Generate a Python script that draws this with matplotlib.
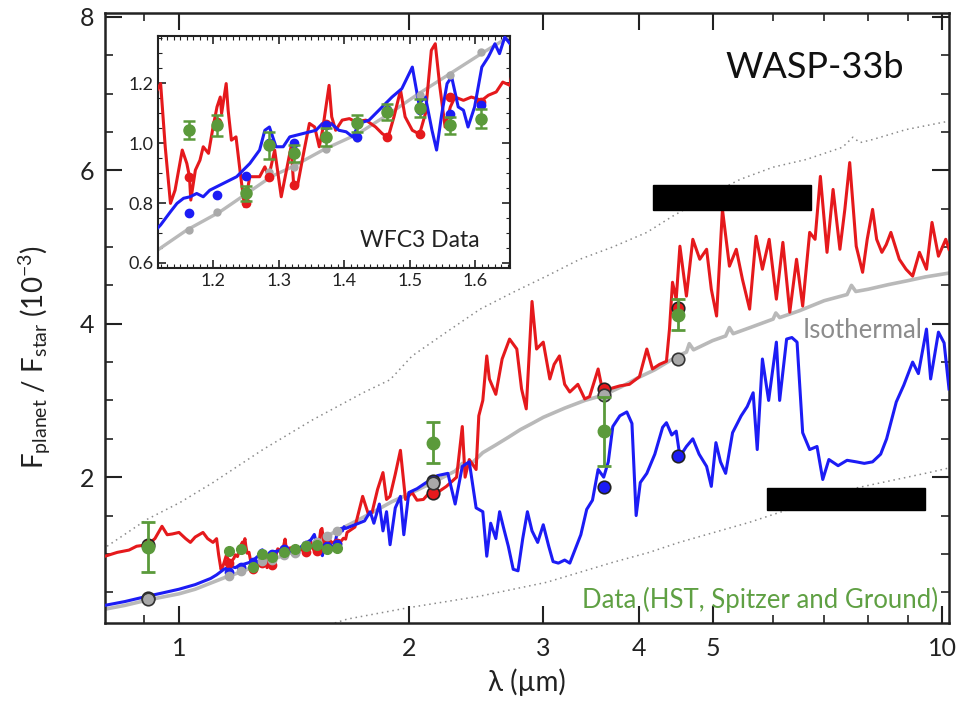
import numpy as np
import matplotlib
matplotlib.use('Agg')
import matplotlib.pyplot as plt
from matplotlib.ticker import FixedLocator, NullFormatter, MultipleLocator, FormatStrFormatter
from matplotlib.patches import Rectangle

plt.rcParams['font.family'] = ['Lato', 'DejaVu Sans']
plt.rcParams['mathtext.default'] = 'regular'

# ---- model spectra (wavelength in micron, Fp/Fs in 1e-3) ----
red_wl = [0.80, 0.83, 0.86, 0.88, 0.91, 0.93, 0.95, 0.965, 0.98, 1.00, 1.02, 1.035, 1.05, 1.075,
          1.09, 1.108, 1.120, 1.127, 1.135, 1.142, 1.153, 1.160, 1.164, 1.166, 1.173, 1.180, 1.185,
          1.193, 1.200, 1.206, 1.211, 1.213, 1.220, 1.223, 1.228, 1.235, 1.241, 1.248, 1.256, 1.271,
          1.279, 1.285, 1.294, 1.304, 1.312, 1.319, 1.323, 1.329, 1.339, 1.347, 1.355, 1.362, 1.367,
          1.377, 1.381, 1.387, 1.397, 1.408, 1.418, 1.433, 1.448, 1.458, 1.467, 1.476, 1.486, 1.493,
          1.504, 1.515, 1.524, 1.533, 1.539, 1.546, 1.554, 1.562, 1.569, 1.582, 1.594, 1.610, 1.620,
          1.632, 1.642, 1.653, 1.66, 1.70, 1.74, 1.77, 1.79, 1.82, 1.85, 1.87, 1.89, 1.92, 1.95, 1.98,
          2.02, 2.05, 2.09, 2.12, 2.18, 2.24, 2.31, 2.35, 2.37, 2.40, 2.45, 2.47, 2.50, 2.53, 2.55,
          2.60, 2.65, 2.71, 2.77, 2.81, 2.85, 2.90, 2.94, 3.00, 3.06, 3.10, 3.15, 3.20, 3.25, 3.33,
          3.40, 3.45, 3.54, 3.59, 3.66, 3.78, 3.89, 4.01, 4.10, 4.17, 4.26, 4.35, 4.39, 4.43, 4.48,
          4.53, 4.62, 4.71, 4.81, 4.91, 4.98, 5.06, 5.15, 5.26, 5.37, 5.47, 5.59, 5.70, 5.81, 5.93,
          6.06, 6.18, 6.31, 6.44, 6.56, 6.70, 6.81, 6.92, 7.06, 7.19, 7.34, 7.45, 7.56, 7.71, 7.86,
          7.97, 8.10, 8.20, 8.33, 8.44, 8.56, 8.78, 8.96, 9.14, 9.33, 9.53, 9.69, 9.88, 10.1, 10.2]
red_f = [0.97, 1.02, 1.05, 1.10, 1.12, 1.20, 1.36, 1.25, 1.26, 1.28, 1.20, 1.15, 1.22, 1.28,
         1.20, 1.15, 1.199, 0.988, 0.799, 0.843, 0.977, 0.932, 0.888, 0.81, 0.91, 0.943, 0.988,
         0.966, 1.054, 1.121, 1.154, 1.099, 1.199, 1.110, 1.01, 1.021, 0.91, 0.788, 0.888, 0.888,
         0.921, 0.888, 0.977, 0.821, 0.91, 0.988, 0.86, 0.86, 0.977, 1.066, 1.054, 0.988, 1.043,
         1.193, 1.088, 1.043, 1.077, 1.082, 1.071, 1.077, 1.054, 1.032, 1.019, 1.088, 1.177, 1.088,
         1.043, 1.03, 1.099, 1.31, 1.332, 1.188, 1.054, 1.121, 1.154, 1.143, 1.154, 1.143, 1.16,
         1.171, 1.204, 1.193, 1.28, 1.35, 1.75, 1.52, 1.54, 1.84, 2.06, 1.71, 1.75, 2.04, 2.35, 1.71,
         1.80, 1.70, 1.71, 1.78, 1.80, 1.88, 2.00, 2.66, 2.00, 2.23, 2.10, 2.80, 3.00, 3.58, 3.28,
         3.08, 3.54, 3.80, 3.67, 3.15, 2.89, 4.29, 3.67, 3.76, 3.28, 3.47, 3.58, 3.21, 3.11, 3.21,
         3.02, 3.05, 3.41, 3.11, 3.15, 3.19, 3.21, 3.31, 3.67, 3.41, 3.47, 3.51, 3.93, 4.54, 4.32,
         5.01, 4.36, 5.10, 4.84, 4.97, 4.45, 4.10, 5.49, 4.75, 4.97, 4.58, 4.19, 5.14, 4.71, 5.10,
         4.32, 5.06, 4.15, 4.84, 4.23, 5.19, 5.10, 5.92, 4.93, 5.75, 4.97, 5.49, 6.10, 5.01, 4.67,
         5.10, 5.49, 5.10, 4.93, 5.03, 5.19, 4.84, 4.71, 4.62, 4.93, 4.71, 5.32, 4.88, 5.10, 4.97]

blue_wl = [0.80, 0.85, 0.91, 0.95, 1.00, 1.05, 1.10, 1.120, 1.135, 1.145, 1.155, 1.165, 1.175, 1.185,
           1.195, 1.216, 1.236, 1.256, 1.271, 1.279, 1.286, 1.296, 1.307, 1.317, 1.337, 1.357, 1.367,
           1.380, 1.392, 1.403, 1.413, 1.423, 1.438, 1.458, 1.473, 1.488, 1.504, 1.514, 1.524, 1.534,
           1.541, 1.549, 1.557, 1.564, 1.574, 1.582, 1.589, 1.599, 1.610, 1.620, 1.630, 1.637, 1.645,
           1.653, 1.70, 1.75, 1.78, 1.80, 1.83, 1.85, 1.87, 1.89, 1.92, 1.95, 1.97, 2.00, 2.05, 2.10,
           2.18, 2.25, 2.30, 2.35, 2.40, 2.45, 2.50, 2.53, 2.56, 2.60, 2.63, 2.66, 2.70, 2.74, 2.78,
           2.82, 2.86, 2.90, 2.95, 3.00, 3.05, 3.09, 3.14, 3.20, 3.25, 3.30, 3.36, 3.42, 3.48, 3.54,
           3.60, 3.65, 3.70, 3.78, 3.86, 3.92, 3.97, 4.02, 4.10, 4.20, 4.30, 4.35, 4.42, 4.48, 4.53,
           4.62, 4.71, 4.80, 4.91, 4.98, 5.05, 5.12, 5.20, 5.31, 5.45, 5.55, 5.65, 5.72, 5.81, 5.92,
           6.06, 6.12, 6.25, 6.35, 6.45, 6.56, 6.70, 6.85, 6.97, 7.10, 7.30, 7.50, 7.71, 7.90, 8.10,
           8.30, 8.45, 8.70, 8.90, 9.14, 9.30, 9.53, 9.65, 9.88, 10.05, 10.2]
blue_f = [0.33, 0.38, 0.45, 0.49, 0.54, 0.60, 0.68, 0.727, 0.771, 0.799, 0.816, 0.821, 0.832, 0.821,
          0.843, 0.866, 0.888, 0.932, 0.977, 1.043, 1.054, 0.988, 0.988, 1.021, 1.032, 1.043, 1.066,
          1.066, 1.043, 1.038, 1.021, 1.066, 1.077, 1.121, 1.154, 1.182, 1.254, 1.132, 1.154, 1.043,
          0.977, 1.099, 1.199, 1.221, 1.121, 1.11, 1.054, 1.121, 1.254, 1.288, 1.332, 1.299, 1.354,
          1.332, 1.38, 1.43, 1.55, 1.40, 1.65, 1.30, 1.55, 1.12, 1.60, 1.75, 1.25, 1.80, 1.85, 1.92,
          2.02, 2.05, 1.65, 2.14, 2.20, 1.60, 1.55, 0.97, 1.40, 1.20, 1.55, 1.35, 1.10, 0.80, 0.78,
          1.20, 1.55, 1.30, 1.15, 1.38, 1.10, 0.90, 0.88, 0.92, 0.88, 1.05, 1.25, 1.58, 1.70, 2.10,
          2.00, 2.20, 2.66, 2.80, 2.85, 2.70, 1.50, 1.93, 2.05, 2.30, 2.65, 2.71, 2.55, 2.60, 2.27,
          2.40, 2.50, 2.30, 2.14, 1.88, 2.45, 2.20, 2.05, 2.58, 2.80, 2.92, 3.10, 2.36, 3.54, 3.00,
          3.76, 3.00, 3.80, 3.82, 3.76, 2.58, 2.36, 2.40, 1.97, 2.23, 2.15, 2.22, 2.20, 2.18, 2.20,
          2.30, 2.50, 2.98, 3.20, 3.50, 3.35, 3.93, 3.28, 3.89, 3.75, 3.15]

iso_wl = [0.80, 0.85, 0.91, 1.00, 1.05, 1.12, 1.16, 1.21, 1.29, 1.32, 1.37, 1.42, 1.47, 1.51, 1.56,
          1.61, 1.70, 1.80, 1.90, 2.00, 2.15, 2.30, 2.35, 2.40, 2.50, 2.60, 2.70, 2.80, 2.90, 3.00,
          3.20, 3.40, 3.60, 3.80, 4.00, 4.20, 4.50, 4.62, 4.66, 4.72, 5.00, 5.20, 5.26, 5.32, 5.60,
          6.00, 6.05, 6.12, 6.50, 7.00, 7.50, 7.60, 7.70, 8.00, 8.50, 9.00, 9.50, 10.2]
iso_f = [0.28, 0.33, 0.40, 0.48, 0.54, 0.65, 0.71, 0.77, 0.89, 0.92, 0.98, 1.03, 1.10, 1.16, 1.23,
         1.30, 1.42, 1.55, 1.68, 1.78, 1.93, 2.08, 2.18, 2.15, 2.32, 2.42, 2.52, 2.62, 2.70, 2.78,
         2.90, 3.00, 3.07, 3.18, 3.30, 3.40, 3.58, 3.63, 3.74, 3.66, 3.78, 3.84, 3.95, 3.87, 3.95,
         4.06, 4.14, 4.08, 4.17, 4.30, 4.38, 4.50, 4.42, 4.45, 4.51, 4.56, 4.61, 4.66]

# blackbody bounds (dotted)
hot_wl = [0.805, 0.908, 1.003, 1.108, 1.288, 1.498, 1.742, 1.89, 2.02, 2.24, 2.48, 2.74, 3.03,
          3.35, 3.70, 4.10, 4.43, 5.00, 5.43, 6.00, 6.63, 7.40, 7.63, 7.80, 8.10, 8.96, 10.2]
hot_f = [1.10, 1.45, 1.67, 1.93, 2.36, 2.75, 3.10, 3.27, 3.58, 3.89, 4.19, 4.41, 4.62,
         4.84, 5.00, 5.19, 5.40, 5.70, 5.88, 6.04, 6.14, 6.30, 6.43, 6.36, 6.40, 6.53, 6.64]
cold_wl = [1.60, 1.66, 2.00, 2.48, 3.03, 3.70, 4.13, 4.52, 5.58, 7.55, 9.6, 10.2]
cold_f = [0.10, 0.15, 0.30, 0.45, 0.63, 0.89, 1.02, 1.15, 1.41, 1.84, 2.06, 2.12]

# ---- observations ----
wfc3_wl = [1.164, 1.206, 1.251, 1.286, 1.323, 1.372, 1.419, 1.466, 1.515, 1.562, 1.609]
wfc3_f = [1.043, 1.06, 0.832, 0.993, 0.966, 1.021, 1.066, 1.104, 1.116, 1.06, 1.082]
wfc3_err = [0.03, 0.035, 0.025, 0.045, 0.028, 0.03, 0.028, 0.028, 0.03, 0.028, 0.033]
wfc3_iso = [0.71, 0.771, 0.83, 0.904, 0.921, 0.982, 1.016, 1.116, 1.16, 1.227, 1.304]
wfc3_red = [0.888, 1.07, 0.80, 0.888, 0.86, 1.063, 1.07, 1.02, 1.032, 1.154, 1.138]
wfc3_blue = [0.766, 0.827, 0.891, 1.0, 1.0, 1.06, 1.019, 1.11, 1.11, 1.099, 1.127]

phot_wl = [0.91, 2.15, 3.6, 4.5]
phot_f = [1.09, 2.45, 2.6, 4.12]
phot_err = [0.32, 0.27, 0.45, 0.2]
phot_iso = [0.41, 1.93, 3.07, 3.54]
phot_red = [1.12, 1.80, 3.15, 4.20]
phot_blue = [0.42, 1.95, 1.87, 2.28]

RED = '#e5191c'
BLUE = '#1c1cf5'
ISO = '#b9b9b9'
GREEN = '#5b9a3b'

fig = plt.figure(figsize=(9.67, 7.11), dpi=100)
ax = fig.add_axes([0.1086, 0.1238, 0.8728, 0.858])

ax.plot(hot_wl, hot_f, color='#8a8a8a', lw=1.1, ls=(0, (1, 2.5)), zorder=1)
ax.plot(cold_wl, cold_f, color='#8a8a8a', lw=1.1, ls=(0, (1, 2.5)), zorder=1)
ax.plot(iso_wl, iso_f, color=ISO, lw=2.6, zorder=2)
ax.plot(red_wl, red_f, color=RED, lw=2.2, zorder=3)
ax.plot(blue_wl, blue_f, color=BLUE, lw=2.2, zorder=4)

# binned models
ax.plot(wfc3_wl, wfc3_red, 'o', color=RED, ms=6, zorder=5)
ax.plot(wfc3_wl, wfc3_blue, 'o', color=BLUE, ms=6, zorder=5)
ax.plot(wfc3_wl, wfc3_iso, 'o', color='#a9a9a9', ms=6, zorder=5)
ax.plot(phot_wl, phot_red, 'o', mfc=RED, mec='#222', mew=1.2, ms=9, zorder=5)
ax.plot(phot_wl, phot_blue, 'o', mfc=BLUE, mec='#222', mew=1.2, ms=9, zorder=5)
ax.plot(phot_wl, phot_iso, 'o', mfc='#a9a9a9', mec='#333', mew=1.2, ms=9, zorder=6)

ax.errorbar(wfc3_wl, wfc3_f, yerr=wfc3_err, fmt='o', color=GREEN, ms=7, capsize=3, lw=1.5, zorder=7)
ax.errorbar(phot_wl, phot_f, yerr=phot_err, fmt='o', color=GREEN, ms=9, capsize=5, lw=2, capthick=2, zorder=7)

ax.set_xscale('log')
ax.set_xlim(0.8, 10.2)
ax.set_ylim(0.1, 8.05)
ax.xaxis.set_major_locator(FixedLocator([1, 2, 3, 4, 5, 10]))
ax.xaxis.set_minor_locator(FixedLocator([0.9, 6, 7, 8, 9]))
ax.set_xticklabels(['1', '2', '3', '4', '5', '10'])
ax.xaxis.set_minor_formatter(NullFormatter())
ax.yaxis.set_major_locator(FixedLocator([2, 4, 6, 8]))
ax.yaxis.set_minor_locator(MultipleLocator(0.5))
ax.tick_params(which='both', direction='in', top=True, right=True, colors='#222', labelsize=18)
ax.tick_params(which='major', length=12, width=1.5)
ax.tick_params(which='minor', length=6, width=1.2)
ax.tick_params(axis='x', pad=10)
ax.tick_params(axis='y', pad=8)
for s in ax.spines.values():
    s.set_linewidth(1.8)
    s.set_color('#222')

ax.set_xlabel('λ (µm)', fontsize=20, color='#222')
ax.xaxis.set_label_coords(0.5, -0.075)
ax.set_ylabel(r'F$_{planet}$ / F$_{star}$ (10$^{-3}$)', fontsize=20, color='#222')
ax.yaxis.set_label_coords(-0.062, 0.436)

ax.text(0.841, 0.911, 'WASP-33b', transform=ax.transAxes, fontsize=26, ha='center', va='center', color='#111')
ax.text(0.827, 0.48, 'Isothermal', transform=ax.transAxes, fontsize=18.5, ha='left', va='center', color='#8c8c8c')
ax.text(0.987, 0.038, 'Data (HST, Spitzer and Ground)', transform=ax.transAxes, fontsize=18.5,
        ha='right', va='center', color='#5fa043')

# redacted legend boxes
ax.add_patch(Rectangle((0.649, 0.677), 0.188, 0.041, transform=ax.transAxes, color='black', zorder=8))
ax.add_patch(Rectangle((0.784, 0.185), 0.187, 0.036, transform=ax.transAxes, color='black', zorder=8))

# ---- inset: WFC3 ----
axi = fig.add_axes([0.1634, 0.623, 0.364, 0.326])
axi.set_facecolor('white')
axi.plot(iso_wl, iso_f, color=ISO, lw=2.4, zorder=2)
axi.plot(red_wl, red_f, color=RED, lw=2.2, zorder=3)
axi.plot(blue_wl, blue_f, color=BLUE, lw=2.2, zorder=4)
axi.plot(wfc3_wl, wfc3_iso, 'o', color='#a9a9a9', ms=5, zorder=5)
axi.plot(wfc3_wl, wfc3_red, 'o', color=RED, ms=6, zorder=5)
axi.plot(wfc3_wl, wfc3_blue, 'o', color=BLUE, ms=6, zorder=5)
axi.errorbar(wfc3_wl, wfc3_f, yerr=wfc3_err, fmt='o', color=GREEN, ms=8, capsize=4, lw=1.8,
             capthick=1.8, zorder=7)
axi.set_xlim(1.116, 1.653)
axi.set_ylim(0.583, 1.357)
axi.xaxis.set_major_locator(MultipleLocator(0.1))
axi.xaxis.set_minor_locator(MultipleLocator(0.01))
axi.yaxis.set_major_locator(MultipleLocator(0.2))
axi.yaxis.set_minor_locator(MultipleLocator(0.05))
axi.xaxis.set_major_formatter(FormatStrFormatter('%.1f'))
axi.yaxis.set_major_formatter(FormatStrFormatter('%.1f'))
axi.tick_params(which='both', direction='in', top=True, right=True, labelsize=13, colors='#222')
axi.tick_params(which='major', length=6, width=1.2)
axi.tick_params(which='minor', length=3, width=0.8)
for s in axi.spines.values():
    s.set_linewidth(1.5)
    s.set_color('#222')
axi.text(0.915, 0.12, 'WFC3 Data', transform=axi.transAxes, fontsize=16.5, ha='right', va='center', color='#222')

fig.savefig('out.png', dpi=100)
